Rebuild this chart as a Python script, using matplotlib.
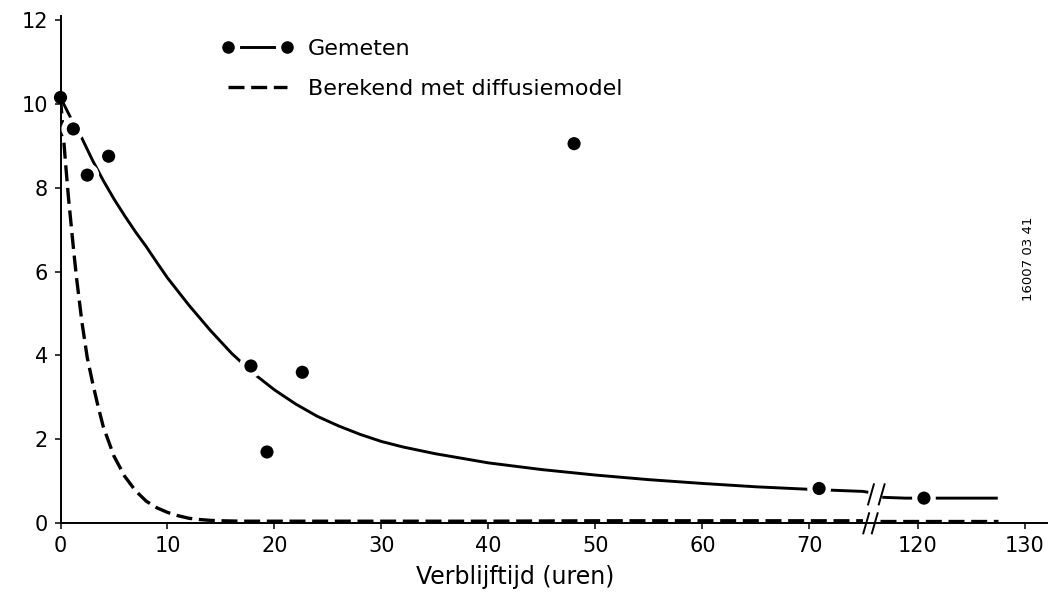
import numpy as np
import matplotlib
matplotlib.use("Agg")
import matplotlib.pyplot as plt
from matplotlib.lines import Line2D

plt.rcParams['font.family'] = ['DejaVu Sans']

# --- data -------------------------------------------------------------
# measured concentrations
meas_x = [0.0, 1.2, 2.5, 4.5, 17.8, 19.3, 22.6, 48.0, 70.9, 120.6]
meas_y = [10.15, 9.4, 8.3, 8.75, 3.75, 1.7, 3.6, 9.05, 0.83, 0.6]

# drawn trend through the measurements (left and right of the axis break)
fit_x1 = [0, 1, 2, 3, 4, 5, 6, 7, 8, 9, 10, 12, 14, 16, 18, 20, 22, 24, 26,
          28, 30, 32, 35, 40, 45, 50, 55, 60, 65, 70, 75, 79.4]
fit_y1 = [10.15, 9.64, 9.18, 8.65, 8.17, 7.73, 7.33, 6.95, 6.6, 6.22, 5.85,
          5.2, 4.6, 4.05, 3.58, 3.18, 2.84, 2.55, 2.32, 2.12, 1.95, 1.82,
          1.66, 1.44, 1.28, 1.15, 1.04, 0.95, 0.87, 0.81, 0.76, 0.74]
fit_x2 = [90.9, 100, 110, 120, 127.5]
fit_y2 = [0.62, 0.61, 0.6, 0.6, 0.6]

# diffusion model
mod_x1 = [0, 0.25, 0.5, 0.75, 1, 1.25, 1.5, 2, 2.5, 3, 3.5, 4, 5, 6, 7, 8, 9,
          10, 11, 12, 13, 14, 15, 17, 20, 30, 40, 50, 60, 70, 75]
mod_y1 = [10.15, 9.3, 8.5, 7.75, 7.1, 6.45, 5.85, 4.8, 3.95, 3.35, 2.8, 2.3,
          1.6, 1.12, 0.78, 0.53, 0.37, 0.26, 0.18, 0.12, 0.09, 0.07, 0.06,
          0.05, 0.05, 0.05, 0.05, 0.06, 0.06, 0.06, 0.06]
mod_x2 = [89.1, 100, 110, 120, 127.5]
mod_y2 = [0.06, 0.06, 0.06, 0.06, 0.06]

x_ticks = [0, 10, 20, 30, 40, 50, 60, 70, 120, 130]
y_ticks = [0, 2, 4, 6, 8, 10, 12]
label_meas = "Gemeten"
label_model = "Berekend met diffusiemodel"
x_label = "Verblijftijd (uren)"
code_text = "16007 03 41"

# --- broken x scale: 75..120 squeezed into a short stretch ------------
BRK_LO, BRK_HI, SHIFT = 75.0, 120.0, 39.9
GAP_W = (BRK_HI - SHIFT) - BRK_LO


def fwd(x):
    x = np.asarray(x, float)
    mid = BRK_LO + (x - BRK_LO) * GAP_W / (BRK_HI - BRK_LO)
    return np.where(x <= BRK_LO, x, np.where(x >= BRK_HI, x - SHIFT, mid))


def inv(d):
    d = np.asarray(d, float)
    mid = BRK_LO + (d - BRK_LO) * (BRK_HI - BRK_LO) / GAP_W
    return np.where(d <= BRK_LO, d, np.where(d >= BRK_HI - SHIFT, d + SHIFT, mid))


fig = plt.figure(figsize=(10.5, 5.94), dpi=100)
W, H = 1050, 594
ax = fig.add_axes([60.5 / W, (H - 523.3) / H, 986.5 / W, 507.6 / H])
ax.set_xscale('function', functions=(fwd, inv))
ax.set_xlim(0, float(inv(92.2)))
ax.set_ylim(0, 12.1)

solid_kw = dict(color='black', lw=2.1, solid_capstyle='butt', zorder=2)
dash_kw = dict(color='black', lw=2.4, linestyle=(0, (4.8, 2.0)), zorder=2)

ax.plot(fit_x1, fit_y1, **solid_kw)
ax.plot(fit_x2, fit_y2, **solid_kw)
ax.plot(mod_x1, mod_y1, **dash_kw)
ax.plot(mod_x2, mod_y2, **dash_kw)

# dots; those lying on the curve get a white ring that opens the line
mx = np.asarray(meas_x)
ring = mx > 0
sizes = np.where(ring, 13.3 ** 2, 9.5 ** 2)
widths = np.where(ring, 3.8, 0.0)
ax.scatter(meas_x, meas_y, s=sizes, c='black', edgecolors='white',
           linewidths=widths, zorder=3, clip_on=False)


# break marks "//" on the curve and on the axis
def slash(d, y, clip=False):
    xs = inv([d - 0.27, d + 0.27])
    ax.plot(xs, [y - 0.24, y + 0.24], color='black', lw=1.4,
            clip_on=clip, zorder=4)


for d in (75.75, 76.75):
    slash(d, 0.69)
for d in (75.3, 76.1):
    slash(d, 0.0)

# axes styling
for side in ('top', 'right'):
    ax.spines[side].set_visible(False)
for side in ('left', 'bottom'):
    ax.spines[side].set_linewidth(1.4)
ax.set_xticks(x_ticks)
ax.set_xticklabels([str(t) for t in x_ticks])
ax.set_yticks(y_ticks)
ax.minorticks_off()
ax.tick_params(direction='out', length=4, width=1.1, labelsize=15, pad=5)
ax.set_xlabel(x_label, fontsize=17)
ax.xaxis.set_label_coords((515 - 60.5) / 986.5, -0.082)

handles = [
    Line2D([], [], color='black', lw=2.1, marker='o', ms=12.9,
           mfc='black', mec='white', mew=3.8),
    Line2D([], [], **{k: v for k, v in dash_kw.items() if k != 'zorder'}),
]
fig.legend(handles, [label_meas, label_model], loc='upper left',
           bbox_to_anchor=(221.3 / W, 1 - 39 / H), frameon=False,
           fontsize=16, numpoints=2, handlelength=3.26, handletextpad=0.64,
           labelspacing=0.9, borderpad=0, borderaxespad=0)

fig.text(1028 / W, 1 - 259 / H, code_text, rotation=90, fontsize=9.5,
         ha='center', va='center')

fig.savefig("out.png", dpi=100)
